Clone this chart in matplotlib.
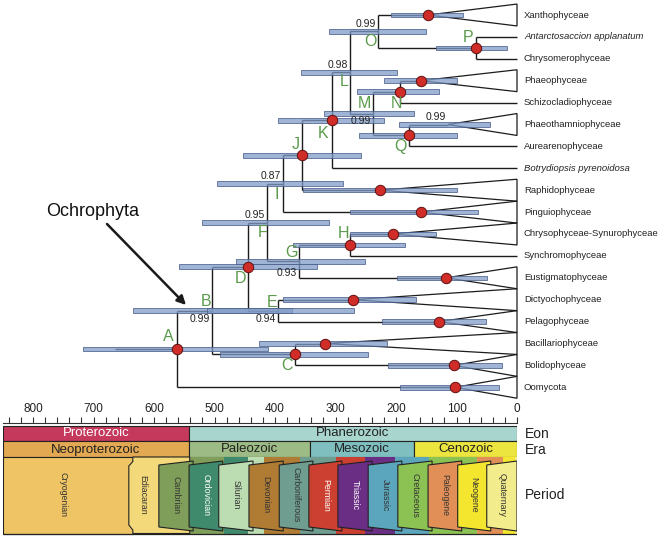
import matplotlib
matplotlib.use("Agg")
import matplotlib.pyplot as plt
from matplotlib.patches import Polygon, Rectangle

plt.rcParams["font.family"] = ["Liberation Sans", "DejaVu Sans"]

# ---- tree data (ages in Ma) ----
tips = ["Xanthophyceae", "Antarctosaccion applanatum", "Chrysomerophyceae", "Phaeophyceae",
        "Schizocladiophyceae", "Phaeothamniophyceae", "Aurearenophyceae",
        "Botrydiopsis pyrenoidosa", "Raphidophyceae", "Pinguiophyceae",
        "Chrysophyceae-Synurophyceae", "Synchromophyceae", "Eustigmatophyceae",
        "Dictyochophyceae", "Pelagophyceae", "Bacillariophyceae", "Bolidophyceae", "Oomycota"]
italic_tips = ["Antarctosaccion applanatum", "Botrydiopsis pyrenoidosa"]

# collapsed clades: crown age and 95% HPD (old, young)
clade_names = ["Xanthophyceae", "Phaeophyceae", "Phaeothamniophyceae", "Raphidophyceae",
               "Pinguiophyceae", "Chrysophyceae-Synurophyceae", "Eustigmatophyceae",
               "Dictyochophyceae", "Pelagophyceae", "Bacillariophyceae", "Bolidophyceae", "Oomycota"]
clade_crown = [147, 159, 114, 226, 159, 205, 117, 271, 129, 317, 104, 102]
clade_hpd_old = [208, 220, 195, 354, 276, 276, 198, 387, 223, 426, 213, 193]
clade_hpd_young = [89, 99, 45, 99, 64, 134, 50, 167, 51, 215, 25, 30]
clade_no_dot = ["Phaeothamniophyceae"]

node_names = ["A", "B", "C", "D", "E", "F", "G", "H", "I", "J", "K", "L", "M", "N", "O", "P", "Q"]
node_ages = [562, 504, 367, 445, 395, 413, 360, 276, 387, 355, 306, 276, 238, 193, 230, 68, 179]
node_children = [["B", "Oomycota"], ["D", "C"], ["Bacillariophyceae", "Bolidophyceae"],
                 ["F", "E"], ["Dictyochophyceae", "Pelagophyceae"], ["I", "G"],
                 ["H", "Eustigmatophyceae"], ["Chrysophyceae-Synurophyceae", "Synchromophyceae"],
                 ["J", "Pinguiophyceae"], ["K", "Raphidophyceae"], ["L", "Botrydiopsis pyrenoidosa"],
                 ["O", "M"], ["N", "Q"], ["Phaeophyceae", "Schizocladiophyceae"],
                 ["Xanthophyceae", "P"], ["Antarctosaccion applanatum", "Chrysomerophyceae"],
                 ["Phaeothamniophyceae", "Aurearenophyceae"]]
node_hpd_old = [717, 634, 491, 559, 512, 521, 464, 370, 496, 453, 395, 357, 319, 264, 311, 134, 261]
node_hpd_young = [412, 372, 246, 331, 269, 311, 251, 185, 288, 258, 220, 198, 170, 129, 150, 17, 99]
calibrated = ["A", "C", "D", "H", "J", "K", "N", "P", "Q"]
root_stem = 664

support_nodes = ["B", "E", "F", "G", "I", "L", "M", "O", "Phaeothamniophyceae"]
support_vals = ["0.99", "0.94", "0.95", "0.93", "0.87", "0.98", "0.99", "0.99", "0.99"]

# ---- geological time scale ----
eons = ["Proterozoic", "Phanerozoic"]
eon_bounds = [850, 542, 0]
eras = ["Neoproterozoic", "Paleozoic", "Mesozoic", "Cenozoic"]
era_bounds = [850, 542, 342, 170, 0]
periods = ["Cryogenian", "Ediacaran", "Cambrian", "Ordovician", "Silurian", "Devonian",
           "Carboniferous", "Permian", "Triassic", "Jurassic", "Cretaceous", "Paleogene",
           "Neogene", "Quaternary"]
period_start = [850, 635, 541, 485, 444, 419, 359, 299, 252, 201, 145, 66, 23, 2.6, 0]
# schematic (equal width) boxes from Cambrian on
tab_left = [592, 542, 493, 443, 393, 344, 296, 246, 197, 147, 98, 50]

eon_colors = ["#c4395c", "#a9d5cf"]
era_colors = ["#e2a952", "#9dbb84", "#7fbfc0", "#ece53f"]
period_colors = ["#efc465", "#f3d97a", "#7f9e5a", "#3f8a6c", "#bcdcb2", "#b07b33",
                 "#6f9d90", "#cc4031", "#6b2e85", "#5ba6bc", "#8cc153", "#e28f57",
                 "#f4e52e", "#f3ec8c"]
white_text = ["Proterozoic", "Ordovician", "Permian", "Triassic"]

# ---- layout ----
W, H = 662, 537
X0, SC = 517, 0.605       # pixel of 0 Ma, px per Ma
Y0, DY = 15, 21.9         # pixel of first tip, px per tip

fig = plt.figure(figsize=(W / 100, H / 100), dpi=100)
ax = fig.add_axes([0, 0, 1, 1])
ax.set_xlim(X0 / SC, (X0 - W) / SC)
ax.set_ylim((H - Y0) / DY, -Y0 / DY)
ax.axis("off")

LINE = "#1c1c1c"
GREEN = "#5a9a4b"
BAR_FC = (0.50, 0.61, 0.78, 0.75)
BAR_EC = (0.29, 0.37, 0.55, 0.9)

ypos = {t: i for i, t in enumerate(tips)}
age = {t: 0.0 for t in tips}
for n, a in zip(clade_names, clade_crown):
    age[n] = a
for n, a in zip(node_names, node_ages):
    age[n] = a
children = dict(zip(node_names, node_children))


def get_y(n):
    if n not in ypos:
        ypos[n] = sum(get_y(c) for c in children[n]) / 2
    return ypos[n]


for n in node_names:
    get_y(n)

# branches
for n in node_names:
    ys = [ypos[c] for c in children[n]]
    ax.vlines(age[n], min(ys), max(ys), color=LINE, lw=1.0, zorder=2)
    for c in children[n]:
        ax.hlines(ypos[c], age[n], age[c], color=LINE, lw=1.0, zorder=2)
ax.hlines(ypos["A"], root_stem, age["A"], color=LINE, lw=1.0, zorder=2)

# collapsed clades
for n in clade_names:
    y = ypos[n]
    ax.add_patch(Polygon([(age[n], y), (0, y - 0.5), (0, y + 0.5)], closed=True,
                         fill=False, edgecolor=LINE, lw=0.9, zorder=2))

# HPD bars
bar_y = [ypos[n] for n in node_names] + [ypos[n] for n in clade_names]
bar_old = node_hpd_old + clade_hpd_old
bar_young = node_hpd_young + clade_hpd_young
ax.barh(bar_y, [o - y for o, y in zip(bar_old, bar_young)], left=bar_young, height=0.21,
        color=BAR_FC, edgecolor=BAR_EC, lw=0.6, zorder=3)

# calibration dots
dots = calibrated + [n for n in clade_names if n not in clade_no_dot]
ax.plot([age[n] for n in dots], [ypos[n] for n in dots], "o", ms=7.5, color="#d02c28",
        mec="#5e1010", mew=0.7, zorder=4, ls="none")

# node letters (offsets in pixels)
letter_off = {"A": (-9, 12), "B": (-6, 9), "C": (-8, -11), "D": (-7, -12), "E": (-6, 8),
              "F": (-5, -10), "G": (-8, 9), "H": (-7, 11), "I": (-6, -11), "J": (-7, 11),
              "K": (-9, -13), "L": (-6, -9), "M": (-9, 10), "N": (-4, -12), "O": (-7, -10),
              "P": (-8, 10), "Q": (-8, -11)}
for n in node_names:
    ax.annotate(n, (age[n], ypos[n]), xytext=letter_off[n], textcoords="offset pixels",
                ha="center", va="center", fontsize=11.5, color=GREEN, zorder=5)

# posterior support
support_off = {"B": 8, "E": 8, "F": -8, "G": 12, "I": -8, "L": -7, "M": 7, "O": -7,
               "Phaeothamniophyceae": -8}
for n, v in zip(support_nodes, support_vals):
    ax.annotate(v, (age[n], ypos[n]), xytext=(-2, -support_off[n]), textcoords="offset pixels",
                ha="right", va="center", fontsize=7.5, color="#222222", zorder=5)

# tip labels
for t in tips:
    ax.text((X0 - 524) / SC, ypos[t], t, ha="left", va="center", fontsize=6.8, color="#222222",
            style="italic" if t in italic_tips else "normal")

# Ochrophyta arrow
ax.text((X0 - 93) / SC, (211 - Y0) / DY, "Ochrophyta", ha="center", va="center",
        fontsize=13, color="#111111")
ax.annotate("", xy=((X0 - 186) / SC, (305 - Y0) / DY), xytext=((X0 - 107) / SC, (224 - Y0) / DY),
            arrowprops=dict(arrowstyle="-|>", color="#1a1a1a", lw=1.8, mutation_scale=13,
                            shrinkA=0, shrinkB=0))

# ---- time scale axes ----
ts = fig.add_axes([3 / W, 0, (X0 - 3) / W, (H - 423) / H])
ts.set_xlim((X0 - 3) / SC, 0)
ts.set_ylim(H, 423)
ts.patch.set_alpha(0)
for s in ["left", "right", "bottom"]:
    ts.spines[s].set_visible(False)
ts.spines["top"].set_linewidth(0.8)
ts.spines["top"].set_color("#333333")
ts.xaxis.set_ticks_position("top")
ts.set_xticks(range(0, 801, 100))
ts.set_xticks(range(0, 841, 20), minor=True)
ts.tick_params(axis="x", which="both", direction="out", length=4, width=0.8, color="#333333",
               labelsize=8.5, pad=2, labelcolor="#222222")
ts.set_yticks([])

EK = "#222222"
for i, name in enumerate(eons):
    a, b = eon_bounds[i], eon_bounds[i + 1]
    ts.add_patch(Rectangle((b, 425.5), a - b, 15.5, facecolor=eon_colors[i], edgecolor=EK, lw=0.8))
    ts.text((a + b) / 2, 433.5, name, ha="center", va="center", fontsize=9.5,
            color="white" if name in white_text else "#222222")
for i, name in enumerate(eras):
    a, b = era_bounds[i], era_bounds[i + 1]
    ts.add_patch(Rectangle((b, 441), a - b, 16, facecolor=era_colors[i], edgecolor=EK, lw=0.8))
    ts.text((a + b) / 2, 449.5, name, ha="center", va="center", fontsize=9.5, color="#222222")

# true-scale period strip behind the boxes
for i, name in enumerate(periods):
    a, b = period_start[i], period_start[i + 1]
    if name == "Ediacaran":
        d = 4 / SC
        ts.add_patch(Polygon([(a, 457), (a, 461.5), (a + d, 466), (a + d, 525), (a, 530),
                              (a, 533.5), (b, 533.5), (b, 457)], closed=True,
                             facecolor=period_colors[i], edgecolor=EK, lw=0.8, zorder=2))
    else:
        ts.add_patch(Rectangle((b, 457), a - b, 76.5, facecolor=period_colors[i],
                               edgecolor=EK if i == 0 else "none", lw=0.8, zorder=1))
ts.hlines(533.5, 0, period_start[0], color=EK, lw=0.9, zorder=5)

ts.text((X0 - 63) / SC, 495, periods[0], rotation=-90, ha="center", va="center",
        fontsize=6.3, color="#333333", zorder=6)
ts.text((X0 - 143) / SC, 495, periods[1], rotation=-90, ha="center", va="center",
        fontsize=6.3, color="#333333", zorder=6)

ov = 4 / SC
for k, L in enumerate(tab_left):
    i = k + 2
    R = tab_left[k + 1] - ov if k + 1 < len(tab_left) else 0
    ts.add_patch(Polygon([(L, 465), (R, 461), (R, 531), (L, 527)], closed=True,
                         facecolor=period_colors[i], edgecolor=EK, lw=0.8, zorder=3 + k * 0.01))
    xc = (L + R) / 2 if k + 1 < len(tab_left) else L / 2
    ts.text(xc, 495, periods[i], rotation=-90, ha="center", va="center", fontsize=6.3, zorder=6,
            color="white" if periods[i] in white_text else "#333333")

for lab, y in zip(["Eon", "Era", "Period"], [433.5, 449.5, 495]):
    ts.text(-(525 - X0) / SC, y, lab, ha="left", va="center", fontsize=10, color="#222222",
            clip_on=False)

fig.savefig("out.png", dpi=100)
